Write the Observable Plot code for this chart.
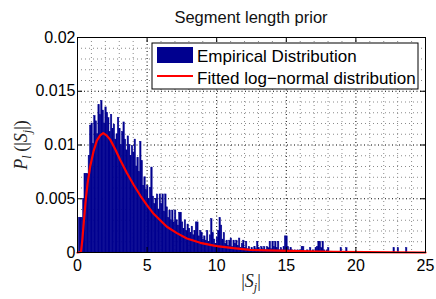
<!DOCTYPE html>
<html><head><meta charset="utf-8">
<script src="https://cdn.jsdelivr.net/npm/d3@7"></script>
<script src="https://cdn.jsdelivr.net/npm/@observablehq/plot@0.6"></script>
<style>
html,body{margin:0;padding:0;background:#fff;}
body{width:436px;height:299px;overflow:hidden;font-family:"Liberation Sans",Arial,sans-serif;}
#title{box-sizing:border-box;height:28px;padding-top:9px;line-height:16px;font-size:16.5px;padding-left:66px;width:436px;text-align:center;color:#111;}
#chart svg{display:block;}
</style></head><body>
<div id="title">Segment length prior</div>
<div id="chart"></div>
<script>
// ---- data ----
const binWidth = 0.1;
// empirical distribution: probability per 0.1-wide bin, bins starting at 0.0, 0.1, ... 24.9
const binHeights = [
  0, 0.0032, 0.0032, 0.0032, 0.0050, 0.0073, 0.0073, 0.0073, 0.0090, 0.0118,
  0.0120, 0.0101, 0.0127, 0.0122, 0.0110, 0.0137, 0.0128, 0.0141, 0.0132, 0.0120,
  0.0135, 0.0130, 0.0125, 0.0112, 0.0128, 0.0115, 0.0119, 0.0105, 0.0110, 0.0125,
  0.0115, 0.0100, 0.0112, 0.0121, 0.0105, 0.0095, 0.0108, 0.0100, 0.0090, 0.0099,
  0.0093, 0.0105, 0.0080, 0.0088, 0.0075, 0.0103, 0.0085, 0.0062, 0.0070, 0.0058,
  0.0062, 0.0050, 0.0060, 0.0079, 0.0052, 0.0045, 0.0050, 0.0054, 0.0040, 0.0054,
  0.0045, 0.0054, 0.0038, 0.0054, 0.0042, 0.0032, 0.0039, 0.0030, 0.0039, 0.0028,
  0.0039, 0.0030, 0.0025, 0.0037, 0.0037, 0.0028, 0.0022, 0.0030, 0.0020, 0.0026,
  0.0022, 0.0018, 0.0024, 0.0016, 0.0020, 0.0028, 0.0028, 0.0015, 0.0020, 0.0018,
  0.0012, 0.0015, 0.0011, 0.0020, 0.0010, 0.0016, 0.0031, 0.0018, 0.0012, 0.0008,
  0.0014, 0.0020, 0.0032, 0.0025, 0.0012, 0.0018, 0.0008, 0.0011, 0.0006, 0.0011,
  0.0013, 0.0005, 0.0011, 0.0008, 0.0011, 0.0006, 0.0013, 0.0004, 0.0008, 0.0011,
  0.0004, 0.0010, 0.0003, 0.0005, 0.0002, 0.0004, 0.0002, 0.0005, 0.0003, 0.0010,
  0.0004, 0.0002, 0.0005, 0.0003, 0.0005, 0.0002, 0.0005, 0.0004, 0.0010, 0.0003,
  0.0010, 0.0005, 0.0010, 0.0004, 0.0010, 0.0002, 0.0004, 0.0002, 0.0005, 0.0015,
  0.0015, 0.0005, 0.0002, 0.0004, 0.0002, 0, 0.0002, 0, 0.0002, 0,
  0.0002, 0.0005, 0.0005, 0, 0, 0.0002, 0, 0.0004, 0, 0.0002,
  0, 0.0004, 0.0005, 0.0010, 0.0010, 0.0004, 0.0010, 0.0002, 0, 0.0002,
  0.0004, 0, 0, 0, 0, 0, 0, 0, 0, 0.0004,
  0, 0, 0, 0.0004, 0, 0, 0, 0, 0, 0,
  0, 0, 0, 0, 0, 0, 0, 0, 0, 0,
  0, 0, 0, 0, 0, 0, 0, 0, 0, 0,
  0, 0, 0, 0, 0, 0, 0, 0.0004, 0, 0,
  0.0004, 0, 0, 0, 0, 0, 0.0004, 0, 0, 0,
  0, 0, 0, 0, 0, 0, 0, 0, 0, 0
];
// fitted log-normal curve
const curveX = [0, 0.25, 0.35, 0.45, 0.57, 0.72, 0.91, 1.15, 1.39, 1.63, 1.85, 2.08, 2.35, 2.71, 3.07, 3.55, 4.03, 4.51, 4.99, 5.47, 5.94, 6.42, 7.14, 7.86, 8.82, 10.0, 11.2, 12.4, 13.6, 16.0, 18.4, 20.8, 25];
const curveY = [0, 0.00005, 0.0012, 0.0028, 0.0046, 0.0064, 0.0080, 0.0094, 0.0104, 0.0109, 0.0111, 0.0109, 0.0105, 0.0096, 0.0086, 0.0074, 0.0063, 0.0053, 0.0044, 0.0036, 0.0030, 0.0024, 0.0018, 0.0013, 0.0009, 0.0006, 0.0004, 0.00025, 0.0002, 0.00012, 0.00006, 0.00003, 0];
const xTicks = [0, 5, 10, 15, 20, 25];
const yTicks = [0, 0.005, 0.01, 0.015, 0.02];
const xMinor = d3.range(0, 26, 1).filter(v => v % 5 !== 0);
const yMinor = d3.range(0, 21, 1).filter(v => v % 5 !== 0).map(v => v / 1000);

// ---- layout ----
const W = 436, H = 271, mT = 9, mL = 77, mR = 11, mB = 47;
const innerW = W - mL - mR, innerH = H - mT - mB;
const BLUE = "#00008f";

const bins = binHeights.map((h, i) => ({x1: i * binWidth, x2: (i + 1) * binWidth, y: h})).filter(d => d.y > 0);
const curve = curveX.map((x, i) => ({x, y: curveY[i]}));

const chart = Plot.plot({
  width: W, height: H, marginTop: mT, marginLeft: mL, marginRight: mR, marginBottom: mB,
  style: {fontFamily: "'Liberation Sans', Arial, sans-serif", fontSize: "16px", color: "#000", background: "#fff", overflow: "visible"},
  x: {domain: [0, 25]},
  y: {domain: [0, 0.02]},
  marks: [
    Plot.gridX(xMinor, {stroke: "#8a8a8a", strokeOpacity: 1, strokeDasharray: "1,3"}),
    Plot.gridY(yMinor, {stroke: "#8a8a8a", strokeOpacity: 1, strokeDasharray: "1,3"}),
    Plot.gridX(xTicks, {stroke: "#000", strokeOpacity: 1, strokeDasharray: "1,2.5"}),
    Plot.gridY(yTicks, {stroke: "#000", strokeOpacity: 1, strokeDasharray: "1,2.5"}),
    Plot.rectY(bins, {x1: "x1", x2: "x2", y: "y", fill: BLUE, stroke: BLUE, strokeWidth: 0.5}),
    Plot.line(curve, {x: "x", y: "y", stroke: "#ff0000", strokeWidth: 2.2}),
    Plot.tickY(yTicks, {y: d => d, insetRight: innerW - 5, stroke: "#000"}),
    Plot.tickY(yTicks, {y: d => d, insetLeft: innerW - 5, stroke: "#000"}),
    Plot.tickX(xTicks, {x: d => d, insetTop: innerH - 5, stroke: "#000"}),
    Plot.tickX(xTicks, {x: d => d, insetBottom: innerH - 5, stroke: "#000"}),
    Plot.axisX(xTicks, {tickSize: 0, tickPadding: 7, label: null, tickFormat: d => String(d)}),
    Plot.axisY(yTicks, {tickSize: 0, tickPadding: 2, label: null, tickFormat: d => String(d)}),
    Plot.frame({stroke: "#000", strokeWidth: 1})
  ]
});
document.getElementById("chart").appendChild(chart);

// ---- legend and axis labels ----
const svg = d3.select(chart);
const lg = svg.append("g").attr("text-anchor", "start");
lg.append("rect").attr("x", 152).attr("y", 15).attr("width", 266).attr("height", 46)
  .attr("fill", "#fff").attr("stroke", "#000").attr("stroke-width", 1);
lg.append("rect").attr("x", 157).attr("y", 19).attr("width", 36).attr("height", 16).attr("fill", BLUE);
lg.append("line").attr("x1", 157).attr("x2", 193).attr("y1", 48).attr("y2", 48)
  .attr("stroke", "#ff0000").attr("stroke-width", 2);
lg.append("text").attr("x", 197).attr("y", 34).attr("font-size", 17).attr("fill", "#000").attr("text-anchor", "start")
  .attr("font-family", "'Liberation Sans', Arial, sans-serif").text("Empirical Distribution");
lg.append("text").attr("x", 197).attr("y", 55.5).attr("font-size", 17).attr("fill", "#000").attr("text-anchor", "start")
  .attr("font-family", "'Liberation Sans', Arial, sans-serif").text("Fitted log\u2212normal distribution");

const serif = "'Liberation Serif', 'DejaVu Serif', serif";
const yl = svg.append("text").attr("transform", "translate(27,117) rotate(-90)")
  .attr("text-anchor", "middle").attr("font-family", serif).attr("font-size", 18).attr("fill", "#222");
yl.append("tspan").attr("font-style", "italic").text("P");
yl.append("tspan").attr("font-style", "italic").attr("font-size", 12).attr("dy", 4).text("l");
yl.append("tspan").attr("dy", -4).text("\u2009(|");
yl.append("tspan").attr("font-style", "italic").text("S");
yl.append("tspan").attr("font-style", "italic").attr("font-size", 12).attr("dy", 4).text("j");
yl.append("tspan").attr("dy", -4).text("|)");

const xl = svg.append("text").attr("x", mL + innerW / 2).attr("y", 259)
  .attr("text-anchor", "middle").attr("font-family", serif).attr("font-size", 18).attr("fill", "#222");
xl.append("tspan").text("|");
xl.append("tspan").attr("font-style", "italic").text("S");
xl.append("tspan").attr("font-style", "italic").attr("font-size", 12).attr("dy", 4).text("j");
xl.append("tspan").attr("dy", -4).text("|");
</script>
</body></html>
